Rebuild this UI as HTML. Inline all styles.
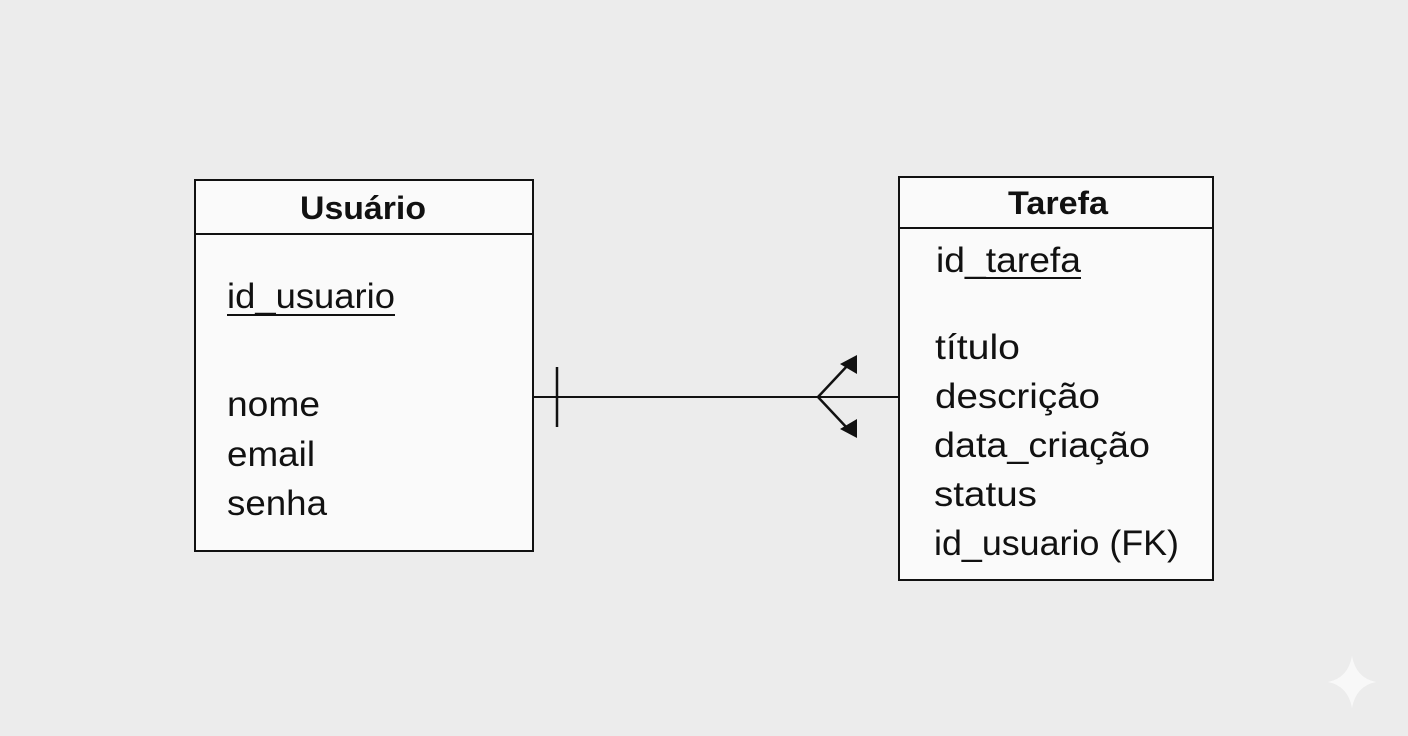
<!DOCTYPE html>
<html><head><meta charset="utf-8"><style>
html,body{margin:0;padding:0;background:#ececec;}
svg{display:block;}
text{font-family:"Liberation Sans",Arial,sans-serif;fill:#111;}
</style></head><body>
<svg width="1408" height="736" viewBox="0 0 1408 736" xmlns="http://www.w3.org/2000/svg">
<rect width="1408" height="736" fill="#ececec"/>
<!-- Usuario -->
<rect x="195" y="180" width="338" height="371" fill="#fafafa" stroke="#111" stroke-width="2"/>
<line x1="195" y1="234" x2="533" y2="234" stroke="#111" stroke-width="2"/>
<text x="363" y="219" font-size="32" font-weight="bold" text-anchor="middle" textLength="126" lengthAdjust="spacingAndGlyphs">Usuário</text>
<text x="227" y="308" font-size="35" textLength="168" lengthAdjust="spacingAndGlyphs">id_usuario</text>
<line x1="227" y1="315" x2="395" y2="315" stroke="#111" stroke-width="2"/>
<text x="227" y="416" font-size="35" textLength="93" lengthAdjust="spacingAndGlyphs">nome</text>
<text x="227" y="466" font-size="35" textLength="88" lengthAdjust="spacingAndGlyphs">email</text>
<text x="227" y="515" font-size="35" textLength="100" lengthAdjust="spacingAndGlyphs">senha</text>
<!-- Tarefa -->
<rect x="899" y="177" width="314" height="403" fill="#fafafa" stroke="#111" stroke-width="2"/>
<line x1="899" y1="228" x2="1213" y2="228" stroke="#111" stroke-width="2"/>
<text x="1058" y="214" font-size="32" font-weight="bold" text-anchor="middle" textLength="100" lengthAdjust="spacingAndGlyphs">Tarefa</text>
<text x="936" y="272" font-size="35" textLength="145" lengthAdjust="spacingAndGlyphs">id_tarefa</text>
<line x1="965" y1="278" x2="1081" y2="278" stroke="#111" stroke-width="2"/>
<text x="935" y="359" font-size="35" textLength="85" lengthAdjust="spacingAndGlyphs">título</text>
<text x="935" y="408" font-size="35" textLength="165" lengthAdjust="spacingAndGlyphs">descrição</text>
<text x="934" y="457" font-size="35" textLength="216" lengthAdjust="spacingAndGlyphs">data_criação</text>
<text x="934" y="506" font-size="35" textLength="103" lengthAdjust="spacingAndGlyphs">status</text>
<text x="934" y="555" font-size="35" textLength="245" lengthAdjust="spacingAndGlyphs">id_usuario (FK)</text>
<!-- connector -->
<line x1="533" y1="397" x2="899" y2="397" stroke="#111" stroke-width="2"/>
<line x1="557" y1="367" x2="557" y2="427" stroke="#111" stroke-width="2.5"/>
<line x1="818" y1="397" x2="848" y2="365" stroke="#111" stroke-width="2.5"/>
<line x1="818" y1="397" x2="848" y2="429" stroke="#111" stroke-width="2.5"/>
<polygon points="857,355 857,374 840,364" fill="#111"/>
<polygon points="857,438 857,419 840,429" fill="#111"/>
<!-- sparkle -->
<path d="M1352,656 Q1356,678 1376,682 Q1356,686 1352,708 Q1348,686 1328,682 Q1348,678 1352,656 Z" fill="#f8f8f8"/>
</svg>
</body></html>
